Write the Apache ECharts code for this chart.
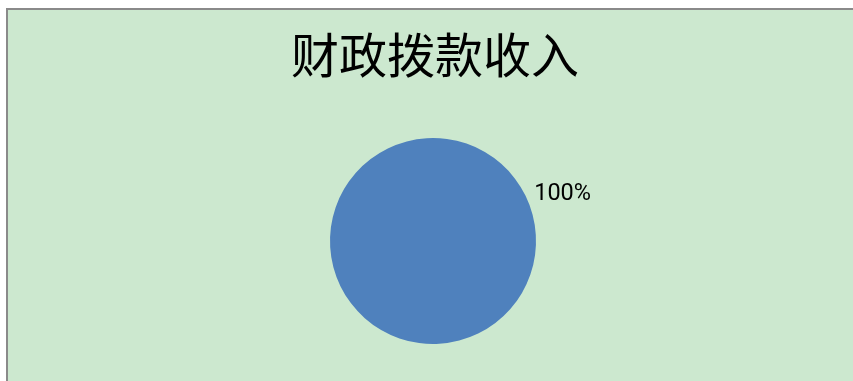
<!DOCTYPE html>
<html>
<head>
<meta charset="utf-8">
<script src="https://cdn.jsdelivr.net/npm/echarts@6/dist/echarts.min.js"></script>
<style>
html,body{margin:0;padding:0;background:#fff;overflow:hidden;}
#bg{position:absolute;left:6px;top:8px;width:900px;height:400px;background:#cce8cf;border-left:2px solid #8a8a8a;border-top:2px solid #8a8a8a;}
#chart{position:absolute;left:0;top:0;width:853px;height:381px;}
</style>
</head>
<body>
<div id="bg"></div>
<div id="chart"></div>
<script>
const titleText = '财政拨款收入';
const categories = ['财政拨款收入'];
const values = [100];

const chart = echarts.init(document.getElementById('chart'), null, {renderer: 'canvas'});
chart.setOption({
  backgroundColor: 'transparent',
  animation: false,
  title: {
    text: titleText,
    left: 286,
    top: 26,
    textStyle: {
      fontFamily: 'Noto Sans CJK SC',
      fontSize: 48,
      fontWeight: 'normal',
      color: '#000'
    }
  },
  series: [{
    type: 'pie',
    center: [433, 241],
    radius: [0, 103],
    startAngle: 206,
    clockwise: true,
    itemStyle: {color: '#4f81bd', borderWidth: 0},
    label: {
      show: true,
      position: 'outside',
      formatter: '{d}%',
      fontFamily: 'Roboto',
      fontSize: 23.5,
      color: '#000'
    },
    labelLine: {show: false, length: 4, length2: 0},
    data: categories.map((c, i) => ({name: c, value: values[i]}))
  }]
});
</script>
</body>
</html>
